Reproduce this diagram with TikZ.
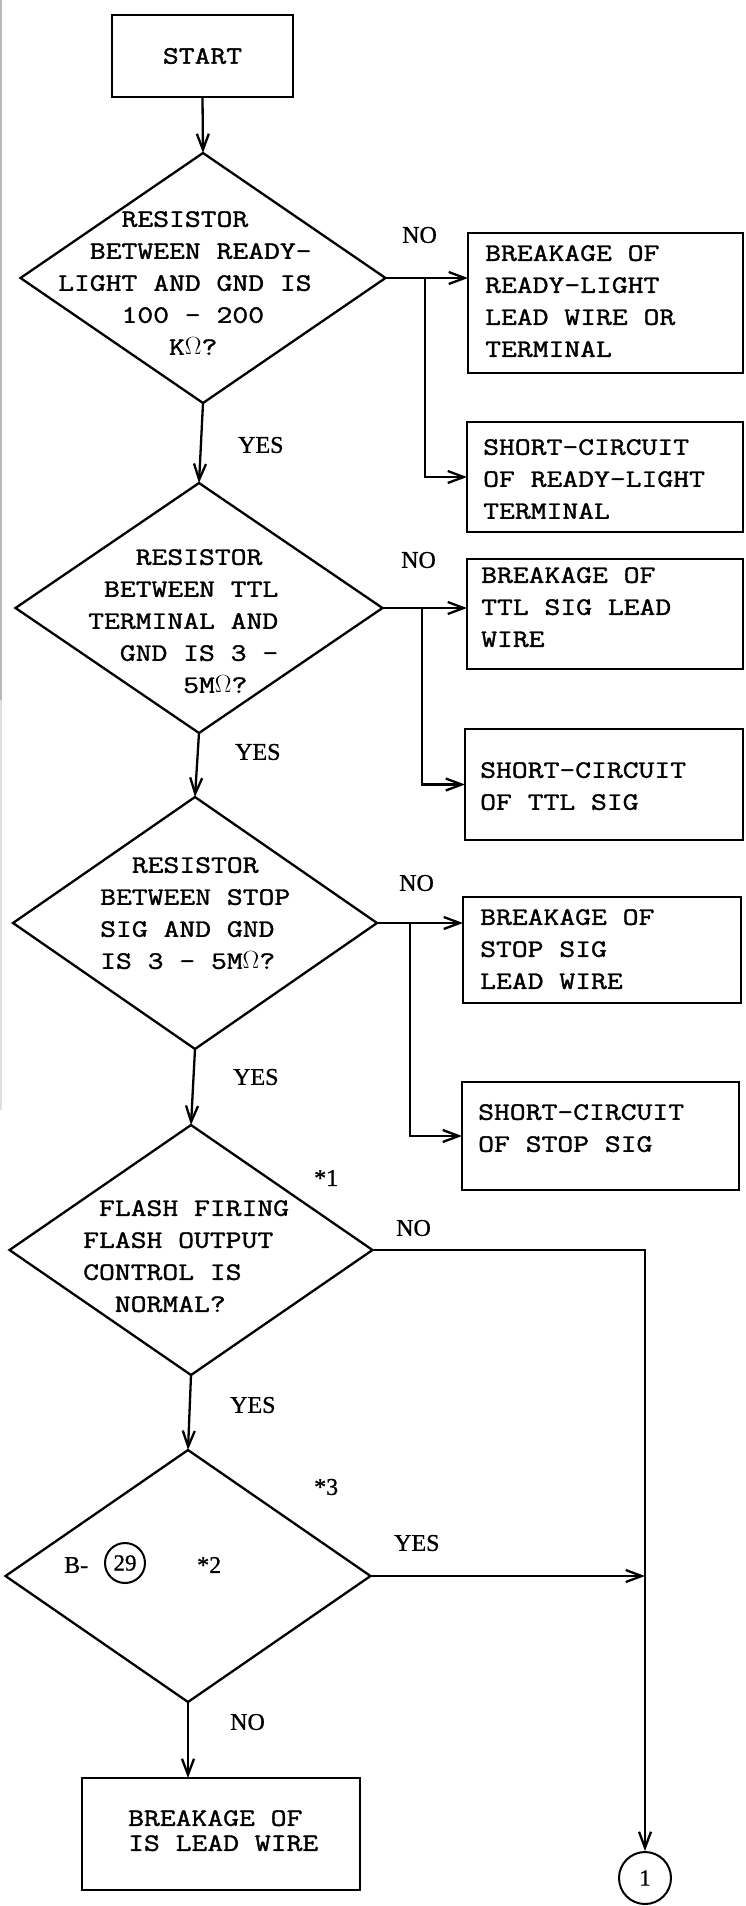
\documentclass[tikz,border=0pt]{standalone}
\usepackage{fontspec}
\usetikzlibrary{arrows.meta,shapes.geometric}
\newfontfamily\twfont[FakeStretch=1.23,FakeBold=1.5]{Latin Modern Mono}
\newfontfamily\lblfont[FakeBold=1]{Liberation Serif}
\tikzset{
  ln/.style={line width=2.3pt},
  dia/.style={draw, ln, diamond, inner sep=0pt, outer sep=0pt},
  boxnode/.style={draw, ln, rectangle, inner sep=0pt, outer sep=0pt},
  txt/.style={anchor=north west, inner sep=0pt, align=left, font=\twfont\fontsize{25}{32}\selectfont},
  lbl/.style={anchor=west, inner sep=0pt, font=\lblfont\fontsize{24}{26}\selectfont},
  arr/.style={ln, -{Straight Barb[length=16pt,width=12pt]}},
}
\begin{document}
\begin{tikzpicture}[x=1pt,y=-1pt]
\useasboundingbox (0,0) rectangle (746,1906);
% scan edge
\draw[gray!55, line width=2pt] (1,0) -- (1,700);
\draw[gray!25, line width=2pt] (1,700) -- (1,1110);

% start
\node[boxnode, minimum width=181pt, minimum height=82pt, font=\twfont\fontsize{25}{32}\selectfont] (start) at (202.5,56) {START};

% diamonds
\node[dia, minimum width=365pt, minimum height=250pt] (d1) at (203,278) {};
\node[dia, minimum width=367pt, minimum height=250pt] (d2) at (199,608) {};
\node[dia, minimum width=364pt, minimum height=252pt] (d3) at (195,923) {};
\node[dia, minimum width=363pt, minimum height=250pt] (d4) at (191,1250) {};
\node[dia, minimum width=365pt, minimum height=252pt] (d5) at (188,1576) {};

% diamond texts
\node[txt] (t1) at (58,211) {\phantom{XXXX}RESISTOR\\\phantom{XX}BETWEEN READY-\\LIGHT AND GND IS\\\phantom{XXXX}100 - 200\\\phantom{XXXXXXX}K$\Omega$?};
\node[txt] (t2) at (88,549) {\phantom{XXX}RESISTOR\\\phantom{X}BETWEEN TTL\\TERMINAL AND\\\phantom{XX}GND IS 3 -\\\phantom{XXXXXX}5M$\Omega$?};
\node[txt] (t3) at (100,857) {\phantom{XX}RESISTOR\\BETWEEN STOP\\SIG AND GND\\IS 3 - 5M$\Omega$?};
\node[txt] (t4) at (83,1200) {\phantom{X}FLASH FIRING\\FLASH OUTPUT\\CONTROL IS\\\phantom{XX}NORMAL?};

% result boxes
\node[boxnode, minimum width=275pt, minimum height=140pt] (a1) at (605.5,303) {};
\node[boxnode, minimum width=276pt, minimum height=110pt] (a2) at (605,477) {};
\node[boxnode, minimum width=276pt, minimum height=110pt] (b1) at (605,614) {};
\node[boxnode, minimum width=278pt, minimum height=111pt] (b2) at (604,784.5) {};
\node[boxnode, minimum width=278pt, minimum height=106pt] (c1) at (602,950) {};
\node[boxnode, minimum width=277pt, minimum height=108pt] (c2) at (600.5,1136) {};
\node[boxnode, minimum width=278pt, minimum height=112pt] (e) at (221,1834) {};

\node[txt] (ta1) at (485,245) {BREAKAGE OF\\READY-LIGHT\\LEAD WIRE OR\\TERMINAL};
\node[txt] (ta2) at (483,439) {SHORT-CIRCUIT\\OF READY-LIGHT\\TERMINAL};
\node[txt] (tb1) at (481,567) {BREAKAGE OF\\TTL SIG LEAD\\WIRE};
\node[txt] (tb2) at (480,762) {SHORT-CIRCUIT\\OF TTL SIG};
\node[txt] (tc1) at (480,909) {BREAKAGE OF\\STOP SIG\\LEAD WIRE};
\node[txt] (tc2) at (478,1104) {SHORT-CIRCUIT\\OF STOP SIG};
\node[txt, font=\twfont\fontsize{25}{25}\selectfont] (te) at (128,1810) {BREAKAGE OF\\IS LEAD WIRE};

% diamond 5 contents
\node[lbl] (bm) at (64,1565) {B-};
\node[draw, circle, line width=2pt, minimum size=40pt, inner sep=0pt, font=\lblfont\fontsize{23}{24}\selectfont] (c29) at (125,1563) {29};
\node[lbl] (s2) at (197,1565) {*2};

% connector circle
\node[draw, circle, line width=2pt, minimum size=52pt, inner sep=0pt, font=\lblfont\fontsize{23}{24}\selectfont] (one) at (645,1878) {1};

% labels
\node[lbl] (y1) at (238,445) {YES};
\node[lbl] (n1) at (402,235) {NO};
\node[lbl] (n2) at (401,560) {NO};
\node[lbl] (y2) at (235,752) {YES};
\node[lbl] (n3) at (399,883) {NO};
\node[lbl] (y3) at (233,1077) {YES};
\node[lbl] (s1) at (314,1178) {*1};
\node[lbl] (n4) at (396,1228) {NO};
\node[lbl] (y4) at (230,1405) {YES};
\node[lbl] (s3) at (314,1487) {*3};
\node[lbl] (y5) at (394,1543) {YES};
\node[lbl] (n5) at (230,1722) {NO};

% junctions
\coordinate (j1) at (425,278);
\coordinate (j2) at (422,608);
\coordinate (j3) at (410,923);

% connectors
\draw[arr] (start.south) -- (d1.north);
\draw[arr] (d1.south) -- (d2.north);
\draw[arr] (d2.south) -- (d3.north);
\draw[arr] (d3.south) -- (d4.north);
\draw[arr] (d4.south) -- (d5.north);
\draw[arr] (d5.south) -- (d5.south |- e.north);

\draw[arr] (d1.east) -- (d1.east -| a1.west);
\draw[arr] (j1) |- (a2.west);
\draw[arr] (d2.east) -- (d2.east -| b1.west);
\draw[arr] (j2) |- (b2.west);
\draw[arr] (d3.east) -- (d3.east -| c1.west);
\draw[arr] (j3) |- (c2.west);

\draw[arr] (d4.east) -| (one.north);
\draw[arr] (d5.east) -- (d5.east -| one.north);
\end{tikzpicture}
\end{document}
